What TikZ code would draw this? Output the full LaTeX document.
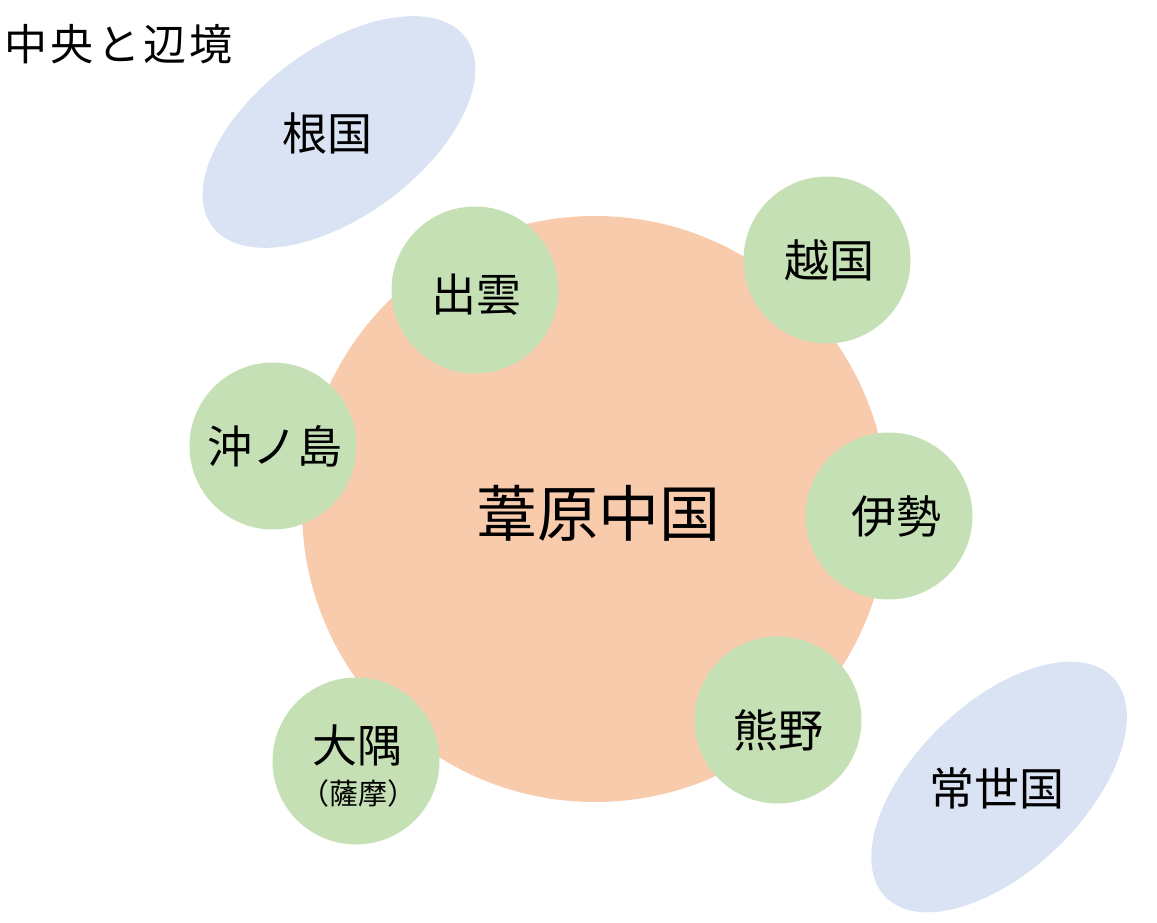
\documentclass[tikz,border=0pt]{standalone}
\usepackage{fontspec}
\setmainfont{Noto Sans CJK JP}
\newfontfamily\jpfont{Noto Sans CJK JP}
\newfontfamily\titlefont[LetterSpace=8]{Noto Sans CJK JP}
\usetikzlibrary{shapes.geometric}
\definecolor{peach}{HTML}{F8CBAD}
\definecolor{leaf}{HTML}{C5E0B4}
\definecolor{sky}{HTML}{DAE3F3}
\tikzset{
  land/.style={circle, fill=leaf, draw=none, minimum size=167pt, inner sep=0pt},
  center/.style={circle, fill=peach, draw=none, minimum size=586pt, inner sep=0pt},
  realm/.style={ellipse, fill=sky, draw=none, minimum width=316pt, minimum height=168pt, inner sep=0pt},
  lbl/.style={font=\jpfont\fontsize{45}{49}\selectfont, inner sep=0pt},
  biglbl/.style={font=\jpfont\fontsize{61}{65}\selectfont, inner sep=0pt},
  smalllbl/.style={font=\jpfont\fontsize{29}{32}\selectfont, inner sep=0pt},
  titlelbl/.style={font=\titlefont\fontsize{43}{46}\selectfont, inner sep=0pt, anchor=west}
}
\begin{document}
\begin{tikzpicture}[x=1pt,y=-1pt]
\useasboundingbox (0,0) rectangle (1157,923);
\node[realm, rotate=36.6] (nekuni) at (339,132) {};
\node[realm, rotate=44] (tokoyo) at (999,787) {};
\node[center] (ashihara) at (595,509) {};
\node[land] (izumo) at (475,290) {};
\node[land] (koshi) at (827,260) {};
\node[land] (okinoshima) at (273,446) {};
\node[land] (ise) at (889,516) {};
\node[land] (kumano) at (778,720) {};
\node[land] (osumi) at (356,761) {};
\node[titlelbl] (title) at (4,44) {中央と辺境};
\node[lbl] (tnekuni) at (327,133) {根国};
\node[lbl] (ttokoyo) at (997,788) {常世国};
\node[biglbl] (tashihara) at (598,513) {葦原中国};
\node[lbl] (tizumo) at (476,295) {出雲};
\node[lbl] (tkoshi) at (829,260) {越国};
\node[lbl] (tokino) at (275,446) {沖ノ島};
\node[lbl] (tise) at (896,516) {伊勢};
\node[lbl] (tkumano) at (778,730) {熊野};
\node[lbl] (tosumi) at (357,745) {大隅};
\node[smalllbl] (tsatsuma) at (358,793) {（薩摩）};
\end{tikzpicture}
\end{document}
